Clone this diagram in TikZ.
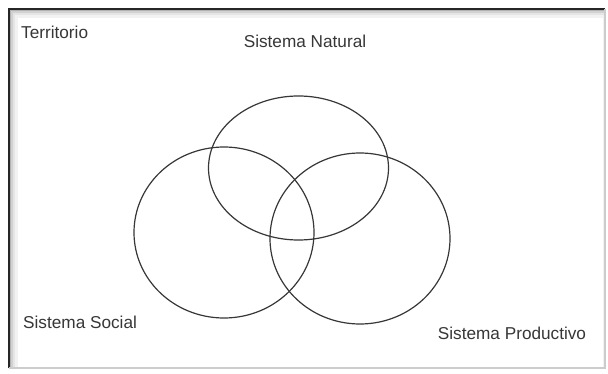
\documentclass[tikz,border=0pt]{standalone}
\usepackage{fontspec}
\setmainfont{Liberation Sans}
\usepackage{tikz}
\usetikzlibrary{shapes.geometric,positioning}
\definecolor{sysline}{RGB}{55,55,55}
\definecolor{systext}{RGB}{55,55,55}

\begin{document}
\begin{tikzpicture}[x=1pt, y=-1pt,
      sysring/.style={ellipse, draw=sysline, line width=1.2pt, minimum width=180pt, inner sep=0pt},
      syslabel/.style={font=\fontsize{17.2}{20}\selectfont, text=systext, inner sep=0pt}
    ]
      \useasboundingbox (0,0) rectangle (608,374);
      \fill[white] (0,0) rectangle (608,374);

      % marco con sombra interior
      \fill[black!30] (9,9) rectangle (605,369);
      \fill[black!18] (11,11) rectangle (605,369);
      \fill[black!10] (13,13) rectangle (605,369);
      \fill[black!5] (15,15) rectangle (604,368);
      \fill[white] (18,18) rectangle (603,367);
      \draw[black!85, line width=2pt] (9,368) -- (9,9) -- (605,9);
      \draw[black!20, line width=1.5pt] (605,9) -- (605,368) -- (9,368);

      % Sistema Natural
      \node[sysring, minimum height=144pt] (natural) at (298.5,168) {};
      % Sistema Social
      \node[sysring, minimum height=171pt] (social) at (224,232.5) {};
      % Sistema Productivo
      \node[sysring, minimum height=171pt] (productivo) at (360,238.5) {};

      \node[syslabel, anchor=west] (territorio) at (21,32) {Territorio};
      \node[syslabel] (lblnatural) at (305,41) {Sistema Natural};
      \node[syslabel, anchor=west] (lblsocial) at (23,322) {Sistema Social};
      \node[syslabel] (lblproductivo) at (512,333) {Sistema Productivo};
    \end{tikzpicture}
\end{document}
